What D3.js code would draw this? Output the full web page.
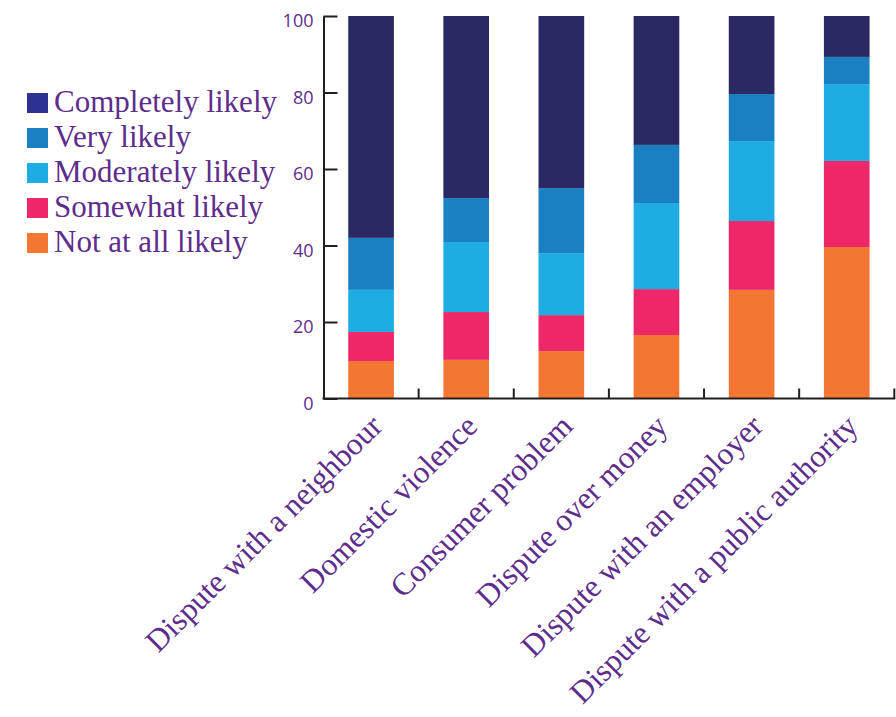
<!DOCTYPE html>
<html>
<head>
<meta charset="utf-8">
<script src="https://cdn.jsdelivr.net/npm/d3@7"></script>
<style>
  html, body { margin: 0; padding: 0; background: #ffffff; }
  svg { display: block; }
</style>
</head>
<body>
<svg id="chart" width="896" height="717"></svg>
<script>
// ---- Data ----
const categories = [
  "Dispute with a neighbour",
  "Domestic violence",
  "Consumer problem",
  "Dispute over money",
  "Dispute with an employer",
  "Dispute with a public authority"
];
const seriesNames = ["Not at all likely", "Somewhat likely", "Moderately likely", "Very likely", "Completely likely"];
const notAtAll   = [9.8, 10.1, 12.4, 16.6, 28.4, 39.6];
const somewhat   = [7.6, 12.5, 9.4, 12.0, 18.0, 22.5];
const moderately = [11.0, 18.3, 16.2, 22.5, 20.9, 20.1];
const very       = [13.6, 11.5, 17.0, 15.2, 12.3, 7.1];
const completely = [58.0, 47.6, 45.0, 33.7, 20.4, 10.7];
const yTicks = [0, 20, 40, 60, 80, 100];

const seriesColors = ["#f37733", "#ee2768", "#1eace2", "#1a80c2", "#2a2963"];
const legendColors = ["#f37733", "#ee2768", "#1eace2", "#1a80c2", "#2e3192"];
const textPurple = "#5e2d8c";
const axisColor = "#231f20";

// ---- Build table ----
const seriesValues = [notAtAll, somewhat, moderately, very, completely];
const rows = categories.map((c, i) => {
  const r = { category: c };
  seriesNames.forEach((s, k) => r[s] = seriesValues[k][i]);
  return r;
});
const stacked = d3.stack().keys(seriesNames)(rows);

// ---- Layout ----
const svg = d3.select("#chart");
const x0 = 323.5, x1 = 894.3, yTop = 16, yBot = 398.5;

const x = d3.scaleBand().domain(categories).range([x0, x1]).paddingInner(0.52).paddingOuter(0.26);
const y = d3.scaleLinear().domain([0, 100]).range([yBot, yTop]);

// Bars
svg.append("g").selectAll("g")
  .data(stacked)
  .join("g")
  .attr("fill", (d, i) => seriesColors[i])
  .selectAll("rect")
  .data(d => d)
  .join("rect")
  .attr("x", d => x(d.data.category))
  .attr("width", x.bandwidth())
  .attr("y", d => y(d[1]))
  .attr("height", d => y(d[0]) - y(d[1]));

// Y axis
const yAxis = svg.append("g")
  .attr("transform", `translate(${x0},0)`)
  .call(d3.axisRight(y).tickValues(yTicks).tickSize(14).tickSizeOuter(0).tickFormat(d3.format("d")));
yAxis.select(".domain").attr("stroke", axisColor).attr("stroke-width", 2);
yAxis.selectAll(".tick line").attr("stroke", axisColor).attr("stroke-width", 2);
yAxis.selectAll(".tick text")
  .attr("x", -10)
  .attr("dy", "0.6em")
  .attr("text-anchor", "end")
  .attr("fill", textPurple)
  .style("font-family", "'Open Sans', 'Liberation Sans', sans-serif")
  .style("font-size", "18px");

// X axis (line + ticks at band boundaries)
const boundaries = categories.map(c => x(c) - x.step() * x.paddingInner() / 2).slice(1).concat([x1]);
const xAxis = svg.append("g");
xAxis.append("line")
  .attr("x1", x0 - 1).attr("x2", x1 + 1)
  .attr("y1", yBot).attr("y2", yBot)
  .attr("stroke", axisColor).attr("stroke-width", 2);
xAxis.selectAll("line.tick")
  .data(boundaries)
  .join("line")
  .attr("class", "tick")
  .attr("x1", d => d).attr("x2", d => d)
  .attr("y1", yBot).attr("y2", yBot - 10)
  .attr("stroke", axisColor).attr("stroke-width", 2);

// X labels
svg.append("g").selectAll("text")
  .data(categories)
  .join("text")
  .attr("transform", d => `translate(${x(d) + x.bandwidth() / 2 + 13},${428}) rotate(-45)`)
  .attr("text-anchor", "end")
  .attr("fill", textPurple)
  .style("font-family", "'Liberation Serif', 'DejaVu Serif', serif")
  .style("font-size", "31.5px")
  .text(d => d);

// Legend (top to bottom: Completely -> Not at all)
const legendOrder = [4, 3, 2, 1, 0];
const legend = svg.append("g").attr("transform", "translate(27,93)");
const li = legend.selectAll("g")
  .data(legendOrder)
  .join("g")
  .attr("transform", (d, i) => `translate(0,${i * 35})`);
li.append("rect")
  .attr("width", 21).attr("height", 20)
  .attr("fill", d => legendColors[d]);
li.append("text")
  .attr("x", 27).attr("y", 19)
  .attr("fill", textPurple)
  .style("font-family", "'Liberation Serif', 'DejaVu Serif', serif")
  .style("font-size", "31px")
  .text(d => seriesNames[d]);
</script>
</body>
</html>
